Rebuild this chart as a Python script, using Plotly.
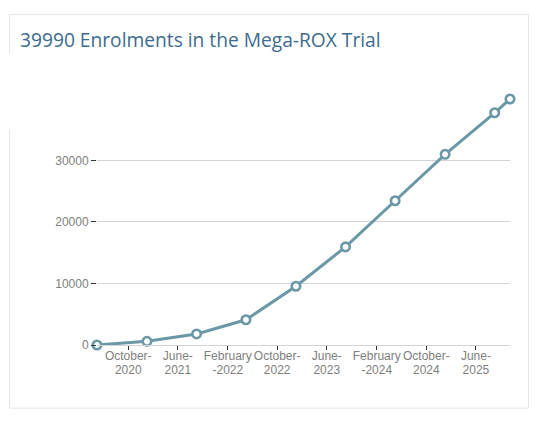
import plotly.graph_objects as go

# ---- data ----
dates = ["2020-05-01", "2021-01-01", "2021-09-01", "2022-05-01", "2023-01-01",
         "2023-09-01", "2024-05-01", "2025-01-01", "2025-09-01", "2025-11-15"]
enrolments = [0, 600, 1800, 4100, 9550, 15950, 23450, 31000, 37750, 39990]

tick_dates = ["2020-10-01", "2021-06-01", "2022-02-01", "2022-10-01",
              "2023-06-01", "2024-02-01", "2024-10-01", "2025-06-01"]
tick_line1 = ["October-", "June-", "February", "October-",
              "June-", "February", "October-", "June-"]
tick_line2 = ["2020", "2021", "-2022", "2022", "2023", "-2024", "2024", "2025"]
y_ticks = [0, 10000, 20000, 30000]
y_tick_labels = ["0", "10000", "20000", "30000"]

title_text = "39990 Enrolments in the Mega-ROX Trial"

# ---- layout geometry (page has an 8px body margin) ----
OFF = 8
W, H = 547 - OFF, 427 - OFF
L, R, T, B = 97.3 - OFF, 37.4, 99.4 - OFF, 82
pw, ph = W - L - R, H - T - B


def px(x):
    return (x - OFF - L) / pw


def py(y):
    return (H - B - (y - OFF)) / ph


line_col = "#6a98a7"
tick_font = dict(family="Liberation Sans, Arial", size=12, color="#808080")

fig = go.Figure()
fig.add_trace(go.Scatter(
    x=dates, y=enrolments, mode="lines+markers",
    line=dict(color=line_col, width=3),
    marker=dict(symbol="circle", size=8.5, color="white",
                line=dict(color=line_col, width=2.6)),
    cliponaxis=False, hoverinfo="x+y", showlegend=False,
))
# invisible trace bound to the second x axis (second line of tick labels)
fig.add_trace(go.Scatter(x=[dates[0], dates[-1]], y=[None, None], xaxis="x2",
                         mode="markers", showlegend=False, hoverinfo="skip"))

border = "#e6e6e6"
shapes = []
for (x0, y0, x1, y1) in [(10, 15, 528, 15), (528, 15, 528, 408), (10, 408, 528, 408),
                         (10, 15, 10, 54), (10, 130, 10, 408)]:
    shapes.append(dict(type="line", xref="paper", yref="paper",
                       x0=px(x0), y0=py(y0), x1=px(x1), y1=py(y1),
                       line=dict(color=border, width=1), layer="below"))

fig.update_layout(
    width=W, height=H,
    margin=dict(l=L, r=R, t=T, b=B),
    paper_bgcolor="white", plot_bgcolor="white",
    title=dict(text=title_text, x=(20 - OFF) / W, xanchor="left", xref="container",
               y=1 - (40.5 - OFF) / H, yanchor="middle", yref="container",
               font=dict(family="Open Sans", size=19.2, color="#3d6c8e")),
    shapes=shapes,
    xaxis=dict(range=[dates[0], dates[-1]], tickvals=tick_dates, ticktext=tick_line1,
               ticks="outside", ticklen=4, tickcolor="#333", tickwidth=1,
               showgrid=False, showline=True, linecolor="#d4d4d4", linewidth=1,
               tickfont=tick_font, zeroline=False, tickangle=0,
               ticklabelstandoff=-4),
    xaxis2=dict(range=[dates[0], dates[-1]], overlaying="x", side="bottom", anchor="y",
                tickvals=tick_dates, ticktext=tick_line2, ticks="", showgrid=False,
                showline=False, zeroline=False, tickangle=0, tickfont=tick_font,
                ticklabelstandoff=16),
    yaxis=dict(range=[0, 39990], tickvals=y_ticks, ticktext=y_tick_labels,
               ticks="outside", ticklen=5,
               tickcolor="#333", tickwidth=1, showgrid=True, gridcolor="#d4d4d4",
               gridwidth=1, zeroline=False, showline=False, tickfont=tick_font),
)

fig.write_html("out.html")
